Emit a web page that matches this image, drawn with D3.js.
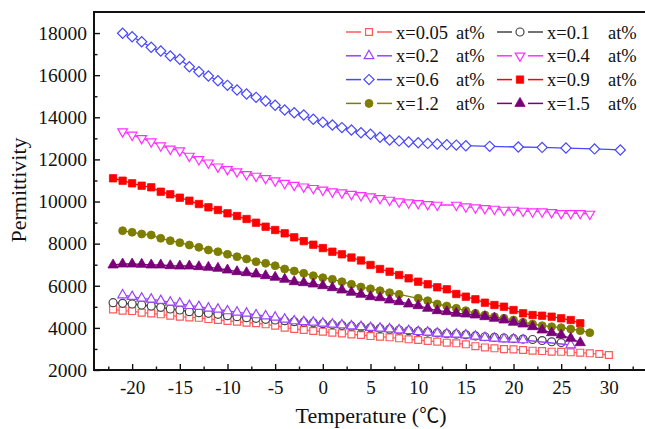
<!DOCTYPE html>
<meta charset="utf-8">
<head>
    <title>Permittivity vs Temperature</title>
    <style>
        body { margin: 0; background: #fff; }
        svg { display: block; }
        text { font-family: "Liberation Serif", "Times New Roman", serif; fill: #111; }
    </style>
</head>
<body>
<svg id="chart" width="645" height="429"></svg>
<script src="https://d3js.org/d3.v7.min.js"></script>
<script>

    // temperatures shared by most series (deg C)
    var temps = [-22,-21,-20,-19,-18,-17,-16,-15,-14,-13,-12,-11,-10,-9,-8,-7,-6,-5,-4,-3,-2,-1,
                 0,1,2,3,4,5,6,7,8,9,10,11,12,13,14,15,16,17,18,19,20,21,22,23,24,25,26,27,28,29,30];

    // permittivity per series, aligned with temps (null = no point)
    var eps005 = [4880,4820,4800,4720,4690,4645,4580,4530,4500,4480,4420,4375,4330,4295,4245,4220,4170,4105,4010,3950,3899,3852,
                  3818,3771,3741,3694,3662,3614,3581,3553,3505,3458,3425,3377,3344,3296,3268,3220,3130,3070,3030,2990,2980,2950,2916,2900,2869,2865,2840,2822,2793,2760,2712];
    var eps01  = [5196,5167,5134,5086,5039,4977,4896,4849,4768,4721,4692,4645,4578,4531,4483,4455,4407,4374,4341,4300,4270,4240,
                  4200,4160,4120,4080,4045,4005,3975,3940,3900,3865,3830,3800,3760,3720,3700,3670,3620,3580,3550,3520,3490,3470,3450,3400,3340,3300,null,null,null,null,null];
    var eps02  = [null,5561,5481,5405,5357,5291,5215,5167,5053,5006,4929,4881,4802,4740,4692,4612,4564,4502,4407,4327,4293,4265,
                  4218,4170,4137,4089,4056,4009,3979,3947,3899,3866,3818,3789,3741,3709,3694,3662,3600,3534,3505,3472,3458,3425,null,null,null,null,3187,null,null,null,null];
    var eps04  = [null,13320,13160,13000,12840,12650,12500,12420,12160,12000,11840,11650,11530,11420,11290,11210,11100,10990,10870,10780,10700,10630,
                  10550,10470,10420,10350,10290,10230,10150,10072,9990,9944,9915,9868,9835,null,9835,9754,9706,9678,9645,9597,9597,9550,9517,9517,9488,9440,9440,9440,9407,null,null];
    var eps09  = [11103,10989,10865,10751,10675,10466,10343,10181,10039,9882,9725,9597,9440,9312,9170,8994,8804,8648,8490,8300,8120,7950,
                  7790,7617,7494,7340,7200,6986,6796,6669,6511,6354,6193,6070,5927,5832,5609,5481,5357,5196,5086,5006,4849,4692,4610,4578,4531,4455,4374,4218,null,null,null];
    var eps12  = [null,8615,8538,8458,8410,8254,8140,8045,7935,7826,7698,7617,7494,7380,7271,7142,7066,6952,6796,6701,6591,6478,
                  6383,6307,6193,6070,5940,5855,5765,5670,5594,null,5405,5291,5134,5039,4929,4816,4692,4612,4531,4455,4374,4265,4184,4104,4056,4009,3947,3866,3771,null,null];
    var eps15  = [6986,7033,7033,7019,6986,6986,6952,6938,6938,6905,6876,6829,6748,6669,6620,6558,6478,6402,6307,6193,6145,6083,
                  6003,5908,5799,5689,5594,5481,5433,5324,5244,5134,5053,4929,4816,4768,4692,4659,4612,4531,4455,4374,4265,4184,4056,3899,3771,3662,3505,3296,null,null,null];

    // x=0.6 has its own (sparser at the end) temperatures
    var temps06 = [-21,-20,-19,-18,-17,-16,-15,-14,-13,-12,-11,-10,-9,-8,-7,-6,-5,-4,-3,-2,-1,0,1,2,3,4,5,6,7,8,9,10,11,12,13,14,15,
                   17.5,20.5,23,25.5,28.5,31.2];
    var eps06   = [17988,17826,17589,17323,17147,16910,16753,16402,16164,15960,15737,15518,15295,15105,14948,14773,14569,14345,14218,14108,
                   13904,13762,13634,13510,13397,13268,13192,13050,12922,12880,12830,12790,12760,12730,12700,12680,12650,
                   12620,12590,12570,12540,12500,12450];

    var labels = ["x=0.05", "x=0.1", "x=0.2", "x=0.4", "x=0.6", "x=0.9", "x=1.2", "x=1.5"];
    var xTicks = [-20, -15, -10, -5, 0, 5, 10, 15, 20, 25, 30];
    var xMinor = [-22.5, -17.5, -12.5, -7.5, -2.5, 2.5, 7.5, 12.5, 17.5, 22.5, 27.5, 32.5];
    var yTicks = [2000, 4000, 6000, 8000, 10000, 12000, 14000, 16000, 18000];
    var yMinor = [3000, 5000, 7000, 9000, 11000, 13000, 15000, 17000];

    var series = [
        {label: labels[0], t: temps,   v: eps005, color: "#ff5a5a", shape: "square",   fill: false},
        {label: labels[1], t: temps,   v: eps01,  color: "#444444", shape: "circle",   fill: false},
        {label: labels[2], t: temps,   v: eps02,  color: "#9a40ff", shape: "triangle", fill: false},
        {label: labels[3], t: temps,   v: eps04,  color: "#ff30ff", shape: "tridown",  fill: false},
        {label: labels[4], t: temps06, v: eps06,  color: "#4848ff", shape: "diamond",  fill: false},
        {label: labels[5], t: temps,   v: eps09,  color: "#ff0000", shape: "square",   fill: true},
        {label: labels[6], t: temps,   v: eps12,  color: "#7d7d00", shape: "circle",   fill: true},
        {label: labels[7], t: temps,   v: eps15,  color: "#7a007a", shape: "triangle", fill: true}
    ];

    var svg = d3.select("#chart");
    var x = d3.scaleLinear().domain([-24, 34]).range([94, 647]),
        y = d3.scaleLinear().domain([2000, 19000]).range([370, 12]);

    // marker path generator
    function marker(shape, fill) {
        var s;
        if (shape == "square") s = d3.symbol(d3.symbolSquare, fill ? 54 : 48);
        else if (shape == "circle") s = d3.symbol(d3.symbolCircle, fill ? 50 : 50);
        else if (shape == "diamond") s = d3.symbol(d3.symbolSquare, 52);
        else s = d3.symbol(d3.symbolTriangle, fill ? 46 : 40);
        return s();
    }
    function rot(shape) {
        if (shape == "diamond") return " rotate(45)";
        if (shape == "tridown") return " rotate(180)";
        return "";
    }

    // axes (ticks point inward); plain hyphen for negatives
    var fmt = function (d) { return String(d); };
    var xAxis = svg.append("g").attr("transform", "translate(0,370)")
        .call(d3.axisBottom(x).tickValues(xTicks).tickSize(-6).tickPadding(11).tickFormat(fmt));
    svg.append("g").attr("transform", "translate(0,370)")
        .call(d3.axisBottom(x).tickValues(xMinor).tickSize(-3.5).tickFormat(""));
    var yAxis = svg.append("g").attr("transform", "translate(94,0)")
        .call(d3.axisLeft(y).tickValues(yTicks).tickSize(-6).tickPadding(7).tickFormat(fmt));
    svg.append("g").attr("transform", "translate(94,0)")
        .call(d3.axisLeft(y).tickValues(yMinor).tickSize(-3.5).tickFormat(""));

    svg.selectAll(".domain").remove();
    svg.selectAll(".tick line").attr("stroke", "#111").attr("stroke-width", 1.4);
    xAxis.selectAll("text").style("font-size", "19px").attr("fill", "#111");
    yAxis.selectAll("text").style("font-size", "19.5px").attr("fill", "#111");

    // frame (right side runs off the picture)
    svg.append("rect")
        .attr("x", 94).attr("y", 12).attr("width", 553).attr("height", 358)
        .attr("fill", "none").attr("stroke", "#111").attr("stroke-width", 2);

    // series
    var line = d3.line().x(function (d) { return x(d[0]); }).y(function (d) { return y(d[1]); });

    series.forEach(function (s) {
        var pts = [];
        s.t.forEach(function (t, i) { if (s.v[i] != null) pts.push([t, s.v[i]]); });
        var g = svg.append("g");
        g.append("path").attr("d", line(pts))
            .attr("fill", "none").attr("stroke", s.color).attr("stroke-width", 1.3);
        g.selectAll("path.m").data(pts).enter().append("path")
            .attr("class", "m")
            .attr("d", marker(s.shape, s.fill))
            .attr("transform", function (d) { return "translate(" + x(d[0]) + "," + y(d[1]) + ")" + rot(s.shape); })
            .attr("fill", s.fill ? s.color : "#fff")
            .attr("stroke", s.color)
            .attr("stroke-width", s.fill ? 0.8 : 1.2);
    });

    // legend
    var lg = svg.append("g");
    series.forEach(function (s, i) {
        var col = i % 2, row = Math.floor(i / 2);
        var cx = col == 0 ? 369 : 520,
            cy = 32 + row * 23.8;
        lg.append("line").attr("x1", cx - 23).attr("x2", cx - 8).attr("y1", cy).attr("y2", cy)
            .attr("stroke", s.color).attr("stroke-width", 1.5);
        lg.append("line").attr("x1", cx + 8).attr("x2", cx + 23).attr("y1", cy).attr("y2", cy)
            .attr("stroke", s.color).attr("stroke-width", 1.5);
        lg.append("path").attr("d", marker(s.shape, s.fill))
            .attr("transform", "translate(" + cx + "," + cy + ")" + rot(s.shape))
            .attr("fill", s.fill ? s.color : "#fff")
            .attr("stroke", s.color).attr("stroke-width", s.fill ? 0.8 : 1.2);
        lg.append("text").attr("x", cx + 27).attr("y", cy + 6.5)
            .style("font-size", "18.5px").text(s.label);
        lg.append("text").attr("x", col == 0 ? 456 : 608).attr("y", cy + 6.5)
            .style("font-size", "18.5px").text("at%");
    });

    // axis titles
    svg.append("text")
        .attr("transform", "translate(26,190) rotate(-90)")
        .attr("text-anchor", "middle")
        .style("font-size", "22px")
        .text("Permittivity");
    var xt = svg.append("text")
        .attr("x", 371).attr("y", 423)
        .attr("text-anchor", "middle")
        .style("font-size", "22px");
    xt.append("tspan").text("Temperature (");
    xt.append("tspan").style("font-family", "'Noto Sans CJK SC', 'DejaVu Sans', sans-serif").style("font-size", "20px").text("\u2103");
    xt.append("tspan").text(")");

</script>
</body>
